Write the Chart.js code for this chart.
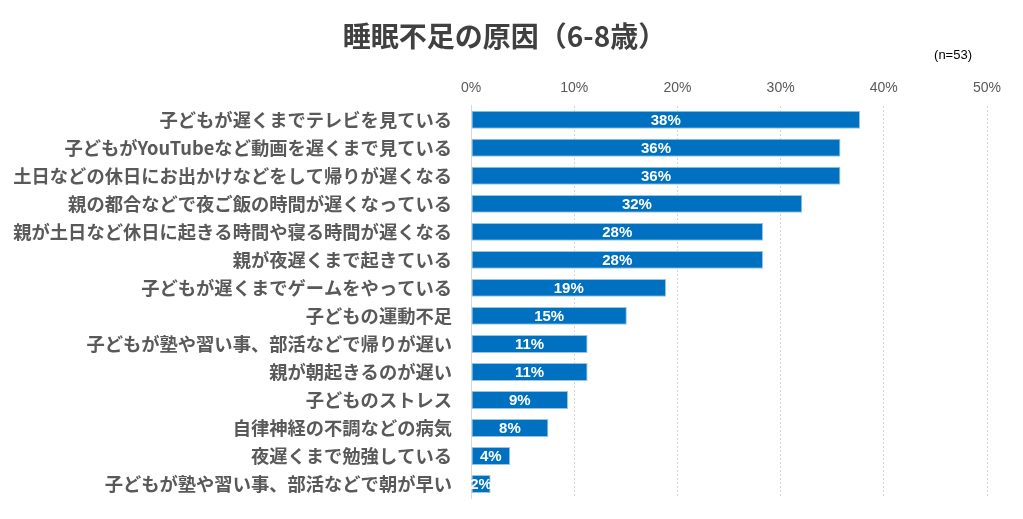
<!DOCTYPE html>
<html lang="ja">
<head>
<meta charset="utf-8">
<title>睡眠不足の原因（6-8歳）</title>
<script src="https://cdn.jsdelivr.net/npm/chart.js@4"></script>
<style>
  html, body { margin: 0; padding: 0; background: #fff; }
  #wrap { position: relative; width: 1023px; height: 519px; font-family: "Noto Sans CJK JP", "Noto Sans", sans-serif; }
  #title { position: absolute; left: 0; width: 1009px; top: 15px; text-align: center; font-size: 28px; font-weight: bold; color: #404040; }
  #note { position: absolute; right: 51px; top: 47px; font-size: 13px; color: #000; font-family: "Liberation Sans", "Noto Sans", sans-serif; }
  canvas { position: absolute; left: 0; top: 0; }
</style>
</head>
<body>
<div id="wrap">
  <canvas id="chart" width="1023" height="519"></canvas>
  <div id="title">睡眠不足の原因（6-8歳）</div>
  <div id="note">(n=53)</div>
</div>
<script>
// 項目（上から順に）
const categories = [
    '子どもが遅くまでテレビを見ている',
    '子どもがYouTubeなど動画を遅くまで見ている',
    '土日などの休日にお出かけなどをして帰りが遅くなる',
    '親の都合などで夜ご飯の時間が遅くなっている',
    '親が土日など休日に起きる時間や寝る時間が遅くなる',
    '親が夜遅くまで起きている',
    '子どもが遅くまでゲームをやっている',
    '子どもの運動不足',
    '子どもが塾や習い事、部活などで帰りが遅い',
    '親が朝起きるのが遅い',
    '子どものストレス',
    '自律神経の不調などの病気',
    '夜遅くまで勉強している',
    '子どもが塾や習い事、部活などで朝が早い'
];

// 割合（%）、n=53
const shares = [37.7, 35.8, 35.8, 32.1, 28.3, 28.3, 18.9, 15.1, 11.3, 11.3, 9.4, 7.5, 3.8, 1.9];

// 軸目盛
const tickValues = [0, 10, 20, 30, 40, 50];

const barColor = '#0070C0';
const textGray = '#595959';

// バーの中央に白字で値を描く
const barLabels = {
    id: 'barLabels',
    afterDatasetsDraw(chart) {
        const ctx = chart.ctx;
        const meta = chart.getDatasetMeta(0);
        ctx.save();
        ctx.fillStyle = '#fff';
        ctx.font = 'bold 15px "Liberation Sans", "Noto Sans", sans-serif';
        ctx.textAlign = 'center';
        ctx.textBaseline = 'middle';
        meta.data.forEach((bar, i) => {
            const cx = (bar.x + bar.base) / 2;
            ctx.fillText(Math.round(shares[i]) + '%', cx, bar.y + 1);
        });
        ctx.restore();
    }
};

new Chart(document.getElementById('chart'), {
    type: 'bar',
    data: {
        labels: categories,
        datasets: [{
            data: shares,
            backgroundColor: barColor,
            borderColor: '#9CC3E8',
            borderWidth: 1,
            borderSkipped: false,
            barPercentage: 0.8,
            categoryPercentage: 0.8
        }]
    },
    options: {
        indexAxis: 'y',
        responsive: false,
        animation: false,
        layout: { padding: { top: 71, bottom: 21, left: 12, right: 36 } },
        plugins: {
            legend: { display: false },
            tooltip: { enabled: false }
        },
        scales: {
            x: {
                position: 'top',
                min: 0,
                max: 50,
                afterBuildTicks(axis) {
                    axis.ticks = tickValues.map(v => ({ value: v }));
                },
                ticks: {
                    color: textGray,
                    font: { size: 14, family: '"Liberation Sans", "Noto Sans", sans-serif' },
                    padding: 9,
                    callback: v => v + '%'
                },
                grid: {
                    color: '#D4D4D4',
                    lineWidth: 1,
                    drawTicks: false,
                    tickLength: 0
                },
                border: {
                    display: false,
                    dash: ctx => (ctx.index === 0 ? [] : [2, 2])
                }
            },
            y: {
                afterFit(axis) {
                    axis.width = 459;
                    axis.paddingTop = 0;
                    axis.paddingBottom = 0;
                },
                ticks: {
                    color: textGray,
                    font: { size: 18.3, weight: 'bold', family: '"Noto Sans CJK JP", sans-serif' },
                    padding: 19,
                    autoSkip: false
                },
                grid: { display: false, drawTicks: false, tickLength: 0 },
                border: { display: true, color: '#D9D9D9' }
            }
        }
    },
    plugins: [barLabels]
});
</script>
</body>
</html>
